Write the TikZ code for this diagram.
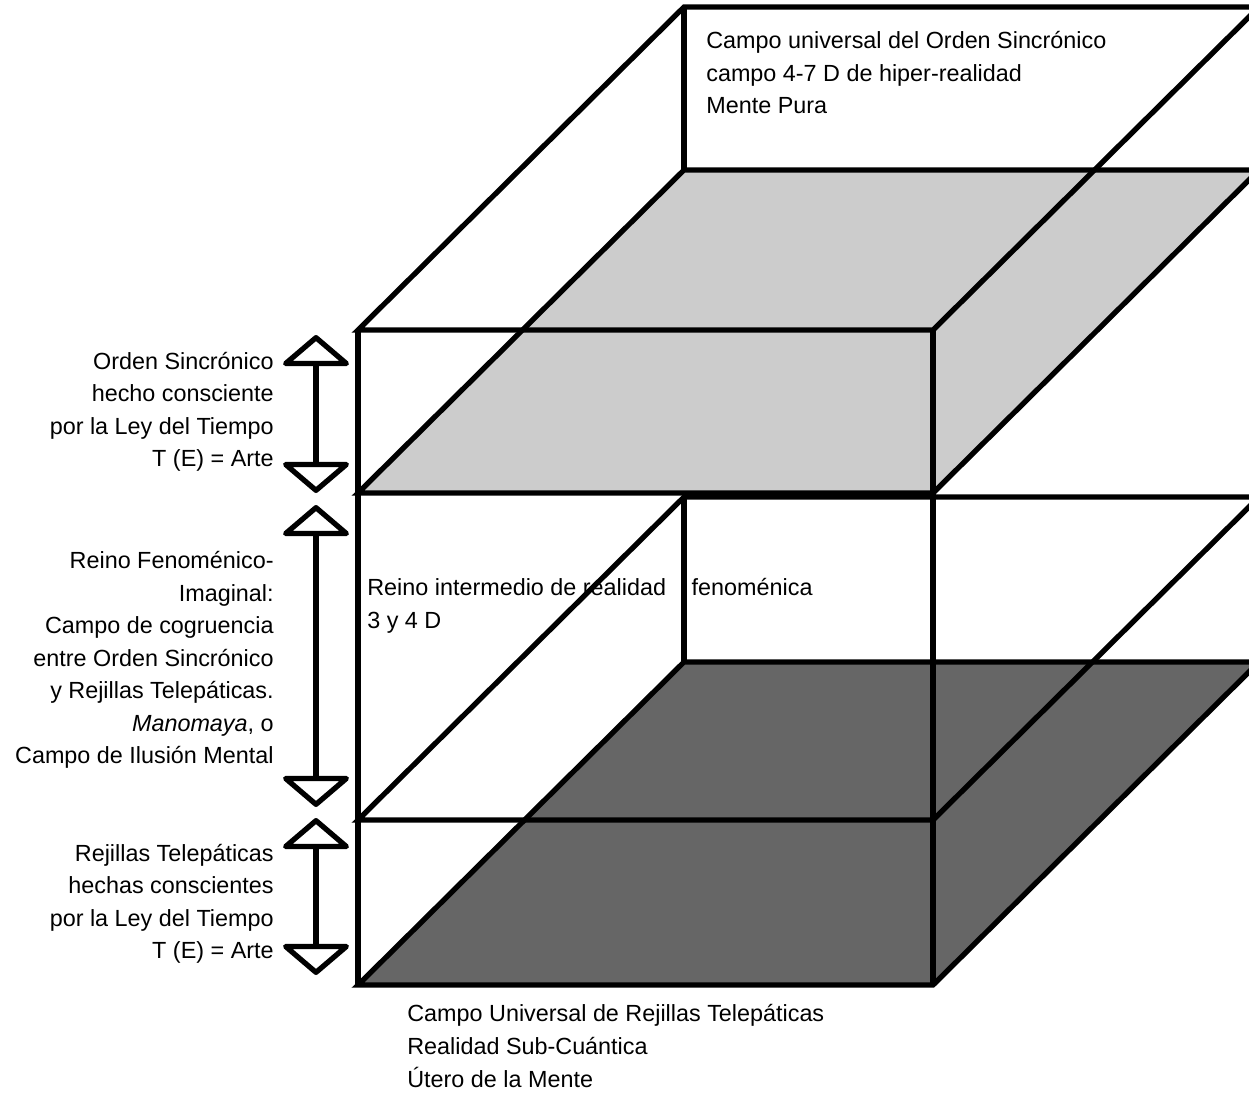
\documentclass[tikz,border=0pt]{standalone}
\usepackage{fontspec}
\setmainfont{Liberation Sans}
\usetikzlibrary{arrows.meta}
\tikzset{
    boxline/.style={line width=3pt,line join=miter},
    lightplane/.style={fill=black!20},
    darkplane/.style={fill=black!60},
    span/.style={line width=3pt,{Triangle[open,width=1.48cm,length=0.64cm,round]}-{Triangle[open,width=1.48cm,length=0.64cm,round]}},
    sidetext/.style={anchor=east,align=right,inner sep=0pt,font=\fontsize{13.3}{18.5}\selectfont},
    boxtext/.style={anchor=west,align=left,inner sep=0pt,font=\fontsize{13.3}{18.5}\selectfont},
    }
\begin{document}
\begin{tikzpicture}[x=0.02cm,y=-0.02cm]
	\useasboundingbox (0,0) rectangle (1249,1093);
	\fill[white] (0,0) rectangle (1249,1093);
	\clip (0,0) rectangle (1249,1093);

	\coordinate (hyperFL) at (358,330);
	\coordinate (hyperFR) at (933,330);
	\coordinate (hyperBR) at (1259,7);
	\coordinate (hyperBL) at (684,7);
	\coordinate (syncFL) at (358,493);
	\coordinate (syncFR) at (933,493);
	\coordinate (syncBR) at (1259,170);
	\coordinate (syncBL) at (684,170);
	\coordinate (phenFL) at (358,820);
	\coordinate (phenFR) at (933,820);
	\coordinate (phenBR) at (1259,497);
	\coordinate (phenBL) at (684,497);
	\coordinate (teleFL) at (358,985);
	\coordinate (teleFR) at (933,985);
	\coordinate (teleBR) at (1259,662);
	\coordinate (teleBL) at (684,662);

	\coordinate (syncTop) at (316,335);
	\coordinate (syncBot) at (316,493);
	\coordinate (phenTop) at (316,505);
	\coordinate (phenBot) at (316,807);
	\coordinate (teleTop) at (316,818);
	\coordinate (teleBot) at (316,975);

	\node[boxtext] (hyperText) at (706,73) {Campo universal del Orden Sincrónico\\campo 4-7 D de hiper-realidad\\Mente Pura};
	\node[boxtext] (phenText) at (367,606) {Reino intermedio de realidad\hspace{1.1em}fenoménica\\3 y 4 D};
	\node[boxtext] (teleText) at (407,1046) {Campo Universal de Rejillas Telepáticas\\Realidad Sub-Cuántica\\Útero de la Mente};
	\node[sidetext] (syncSide) at (274,412) {Orden Sincrónico\\hecho consciente\\por la Ley del Tiempo\\T (E) = Arte};
	\node[sidetext] (phenSide) at (274,660) {Reino Fenoménico-\\Imaginal:\\Campo de cogruencia\\entre Orden Sincrónico\\y Rejillas Telepáticas.\\\textit{Manomaya}, o\\Campo de Ilusión Mental};
	\node[sidetext] (teleSide) at (274,904) {Rejillas Telepáticas\\hechas conscientes\\por la Ley del Tiempo\\T (E) = Arte};

	\fill[lightplane] (syncFL) -- (syncFR) -- (syncBR) -- (syncBL) -- cycle;
	\fill[darkplane] (teleFL) -- (teleFR) -- (teleBR) -- (teleBL) -- cycle;

	\draw[boxline] (hyperFL) -- (hyperFR) -- (hyperBR) -- (hyperBL) -- cycle;
	\draw[boxline] (syncFL) -- (syncFR) -- (syncBR) -- (syncBL) -- cycle;
	\draw[boxline] (phenFL) -- (phenFR) -- (phenBR) -- (phenBL) -- cycle;
	\draw[boxline] (teleFL) -- (teleFR) -- (teleBR) -- (teleBL) -- cycle;
	\draw[boxline] (hyperFL) -- (teleFL);
	\draw[boxline] (hyperFR) -- (teleFR);
	\draw[boxline] (hyperBL) -- (syncBL);
	\draw[boxline] (phenBL) -- (teleBL);
	\draw[boxline] (hyperBR) -- (teleBR);

	\draw[span] (syncTop) -- (syncBot);
	\draw[span] (phenTop) -- (phenBot);
	\draw[span] (teleTop) -- (teleBot);
\end{tikzpicture}
\end{document}
